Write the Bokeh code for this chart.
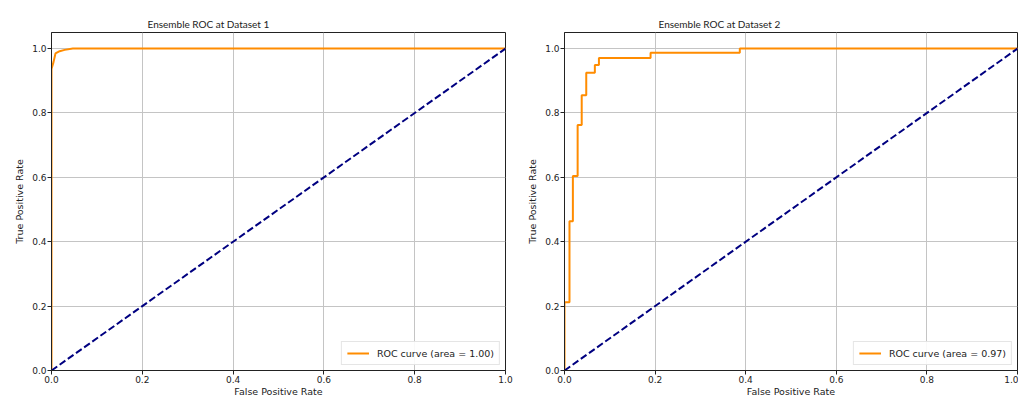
from bokeh.plotting import figure
from bokeh.layouts import row
from bokeh.models import Range1d, FixedTicker, NumeralTickFormatter, Title, Legend, LegendItem
from bokeh.embed import file_html
from bokeh.resources import INLINE

# Dataset 1 ROC curve
fpr1 = [0.0, 0.0, 0.0044, 0.0088, 0.018, 0.029, 0.047, 1.0]
tpr1 = [0.0, 0.937, 0.958, 0.985, 0.992, 0.996, 1.0, 1.0]
auc1 = 1.00

# Dataset 2 ROC curve (step corners)
fpr2 = [0.0, 0.0, 0.011, 0.011, 0.0185, 0.0185, 0.029, 0.029, 0.038, 0.038,
        0.048, 0.048, 0.067, 0.067, 0.076, 0.076, 0.190, 0.190, 0.387, 0.387, 1.0]
tpr2 = [0.0, 0.212, 0.212, 0.464, 0.464, 0.604, 0.604, 0.763, 0.763, 0.855,
        0.855, 0.925, 0.925, 0.949, 0.949, 0.971, 0.971, 0.987, 0.987, 1.0, 1.0]
auc2 = 0.97

chance_x = [0.0, 1.0]
chance_y = [0.0, 1.0]

titles = ["Ensemble ROC at Dataset 1", "Ensemble ROC at Dataset 2"]
ticks = [0.0, 0.2, 0.4, 0.6, 0.8, 1.0]

TICK_FONT = "DejaVu Sans"


def make_plot(fpr, tpr, auc, title, width, left_border, right_border, title_offset):
    p = figure(width=width, height=399, output_backend="svg", toolbar_location=None,
               x_range=Range1d(0, 1), y_range=Range1d(0, 1.05),
               min_border_left=left_border, min_border_right=right_border,
               min_border_top=32, min_border_bottom=28)
    p.title = Title(text=title, align="left", offset=title_offset,
                    text_font="Lato", text_font_size="10px", text_font_style="normal",
                    text_color="#222222", standoff=6)
    p.background_fill_color = "white"
    p.border_fill_color = "white"
    p.outline_line_color = "#222222"
    p.outline_line_width = 1

    for ax in (p.xaxis[0], p.yaxis[0]):
        ax.ticker = FixedTicker(ticks=ticks)
        ax.formatter = NumeralTickFormatter(format="0.0")
        ax.major_label_text_font = TICK_FONT
        ax.major_label_text_font_size = "9px"
        ax.major_label_text_color = "#222222"
        ax.axis_label_text_font = TICK_FONT
        ax.axis_label_text_font_size = "9.5px"
        ax.axis_label_text_font_style = "normal"
        ax.axis_label_text_color = "#222222"
        ax.axis_line_color = "#222222"
        ax.major_tick_line_color = "#222222"
        ax.major_tick_out = 4
        ax.major_tick_in = 0
        ax.minor_tick_line_color = None
        ax.major_label_standoff = 1
        ax.axis_label_standoff = 0
    p.xaxis.axis_label = "False Positive Rate"
    p.yaxis.axis_label = "True Positive Rate"
    p.yaxis.axis_label_standoff = 4

    p.grid.grid_line_color = "#c4c4c4"
    p.grid.grid_line_width = 1
    p.xgrid.ticker = FixedTicker(ticks=ticks)
    p.ygrid.ticker = FixedTicker(ticks=ticks)

    roc = p.line(fpr, tpr, line_color="#FF8C00", line_width=2)
    p.line(chance_x, chance_y, line_color="#000080", line_width=2, line_dash="7 3")

    legend = Legend(items=[LegendItem(label="ROC curve (area = %.2f)" % auc, renderers=[roc])],
                    location="bottom_right", margin=5, padding=5, spacing=0,
                    label_text_font=TICK_FONT, label_text_font_size="9.5px",
                    label_text_color="#222222", label_standoff=8,
                    glyph_width=22, glyph_height=12, label_height=12,
                    border_line_color="#cccccc", border_line_width=1,
                    background_fill_color="white", background_fill_alpha=0.9)
    p.add_layout(legend)
    return p


p1 = make_plot(fpr1, tpr1, auc1, titles[0], 518, 51, 13, 96)
p2 = make_plot(fpr2, tpr2, auc2, titles[1], 500, 46, 1, 94)

layout = row(p1, p2)
open("out.html", "w").write(file_html(layout, INLINE))
